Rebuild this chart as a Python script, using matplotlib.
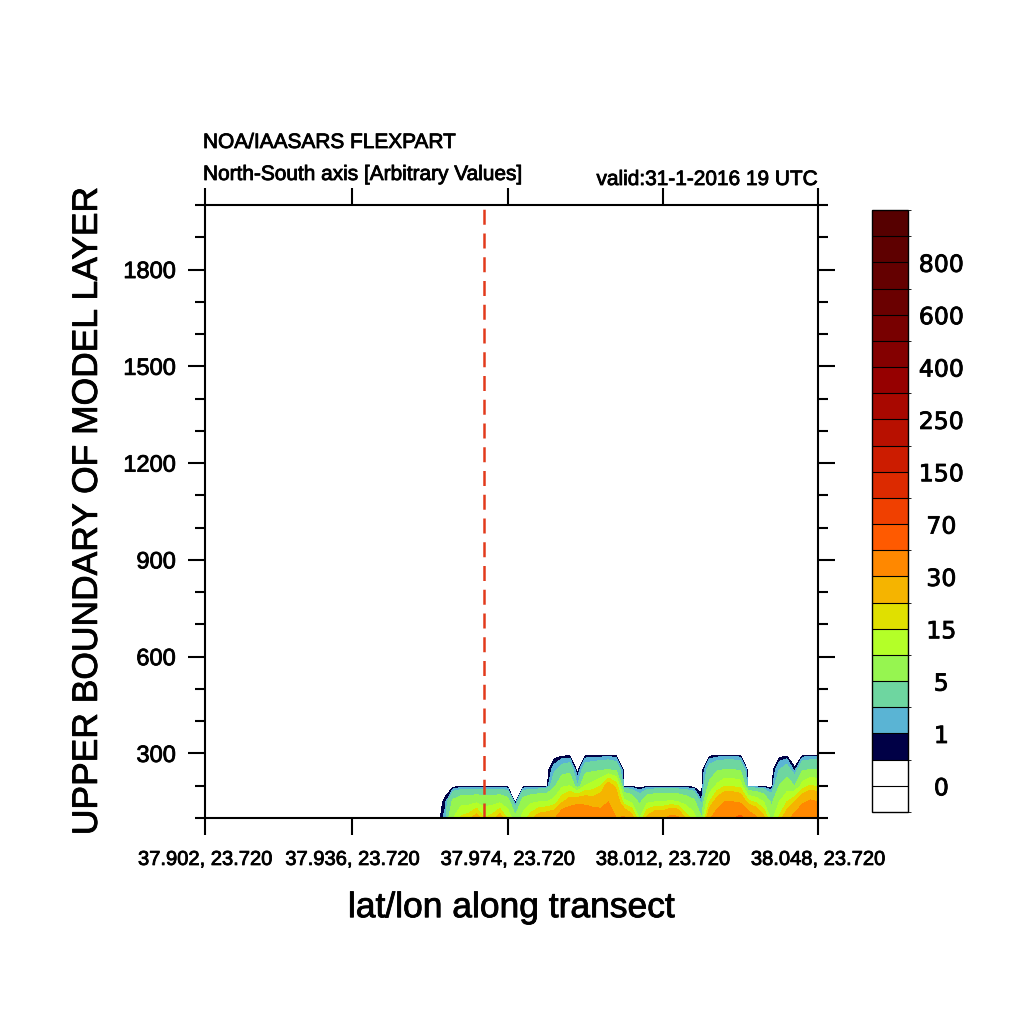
import numpy as np
import matplotlib
matplotlib.use("Agg")
import matplotlib.pyplot as plt
import matplotlib.patheffects as pe
from matplotlib.colors import ListedColormap, BoundaryNorm
from matplotlib.ticker import MultipleLocator

plt.rcParams['font.family'] = ['Liberation Sans', 'DejaVu Sans']
BOLDISH = [pe.withStroke(linewidth=0.6, foreground='black')]

# transect points (index along the cross section)
n_points = 80
tick_idx = [0, 19, 39, 59, 79]
tick_labels = ["37.902, 23.720", "37.936, 23.720", "37.974, 23.720",
               "38.012, 23.720", "38.048, 23.720"]
release_idx = 36

# model layer heights (m)
heights = [100, 150, 200, 250, 300, 2000]

# concentration per layer along the transect (columns 0..30 are empty)
conc_100 = [0] * 31 + [
    1.5, 10, 16, 18, 24, 15, 17, 24, 14, 6,
    12, 18, 24, 26, 28, 42, 46, 46, 46, 42,
    36, 32, 30, 32, 24, 10, 22, 28, 28, 34,
    32, 18, 12, 5, 28, 38, 45, 48, 55, 40,
    32, 22, 8, 16, 26, 35, 42, 46, 44]
conc_150 = [0] * 31 + [
    0.8, 6, 8, 8, 9, 8, 8, 9, 7, 0,
    7, 9, 10, 10, 12, 19, 24, 27, 26, 24,
    26, 30, 26, 12, 9, 4, 9, 10, 10, 11,
    10, 8, 6, 1.1, 15, 24, 30, 30, 28, 17,
    14, 10, 4, 10, 15, 20, 28, 32, 30]
conc_200 = [0] * 31 + [
    0, 0, 0, 0, 0, 0, 0, 0, 0, 0,
    0, 0, 0, 0, 4, 9, 10, 2, 10, 12,
    15, 24, 18, 0, 0, 0, 0, 0, 0, 0,
    0, 0, 0, 0, 6, 11, 14.5, 14, 13, 0,
    0, 0, 0, 5, 7, 5, 12, 15.5, 14]
conc_250 = [0] * 31 + [
    0, 0, 0, 0, 0, 0, 0, 0, 0, 0,
    0, 0, 0, 0, 1.5, 3, 3.5, 0, 3.5, 4,
    4.5, 5, 4, 0, 0, 0, 0, 0, 0, 0,
    0, 0, 0, 0, 3, 4.5, 5, 5, 4.5, 0,
    0, 0, 0, 2, 3, 0.6, 4.5, 5, 5]
conc_300 = [0] * n_points
conc_top = [0] * n_points

levels = [0, 0.5, 1, 2, 5, 10, 15, 20, 30, 50, 70, 100, 150, 200, 250,
          300, 400, 500, 600, 700, 800, 900]
label_levels = [0, 1, 5, 15, 30, 70, 150, 250, 400, 600, 800]
colors = ['#ffffff', '#ffffff', '#000046', '#5ab4d4', '#6ed6a0', '#96f550',
          '#b4ff28', '#e0e000', '#f5b400', '#ff8800', '#ff5a00', '#f04000',
          '#dc2a00', '#cc1c00', '#b81000', '#a80800', '#960000', '#840000',
          '#780000', '#6a0000', '#640000', '#5e0000', '#560000']

x = np.arange(n_points)
z = np.array([conc_100, conc_150, conc_200, conc_250, conc_300, conc_top], dtype=float)

fig = plt.figure(figsize=(10.24, 10.24), dpi=100)
ax = fig.add_axes([205 / 1024, 1 - 818 / 1024, 613 / 1024, 613 / 1024])

fill_levels = levels[1:] + [1e6]
ax.contourf(x, heights, z, levels=fill_levels, colors=colors[2:])
ax.axvline(release_idx, color='#e23a1c', lw=1.8, dashes=(6, 3.5))

ax.set_xlim(0, n_points - 1)
ax.set_ylim(100, 2000)
ax.set_xticks(tick_idx)
ax.set_xticklabels(tick_labels)
ax.set_yticks([300, 600, 900, 1200, 1500, 1800])
ax.yaxis.set_minor_locator(MultipleLocator(100))
ax.tick_params(axis='both', which='major', direction='out', length=12, width=1.5,
               top=True, right=True)
ax.tick_params(axis='x', which='major', labelsize=14.5, pad=11)
ax.tick_params(axis='y', which='major', labelsize=17, pad=9)
ax.tick_params(axis='y', which='minor', direction='out', length=7, width=1.5,
               left=True, right=True)
for s in ax.spines.values():
    s.set_linewidth(1.5)
for t in ax.get_xticklabels() + ax.get_yticklabels():
    t.set_path_effects(BOLDISH)

ax.set_xlabel('lat/lon along transect', fontsize=25.5, labelpad=16)
ax.set_ylabel('UPPER BOUNDARY OF MODEL LAYER', fontsize=25.5, labelpad=14)
ax.xaxis.label.set_path_effects(BOLDISH)
ax.yaxis.label.set_path_effects(BOLDISH)

title_kw = dict(fontsize=15, va='baseline', path_effects=BOLDISH)
fig.text(203 / 1024, 1 - 148 / 1024, 'NOA/IAASARS FLEXPART', ha='left', **title_kw)
fig.text(203 / 1024, 1 - 180 / 1024, 'North-South axis [Arbitrary Values]',
         ha='left', **title_kw)
fig.text(818 / 1024, 1 - 185 / 1024, 'valid:31-1-2016 19 UTC', ha='right', **title_kw)

# colorbar with equal boxes
cax = fig.add_axes([872 / 1024, 1 - 812 / 1024, 36 / 1024, 602 / 1024])
bounds = [-1] + levels + [1000]
cmap = ListedColormap(colors)
norm = BoundaryNorm(bounds, cmap.N)
sm = plt.cm.ScalarMappable(cmap=cmap, norm=norm)
cb = fig.colorbar(sm, cax=cax, boundaries=bounds, spacing='uniform',
                  ticks=label_levels, drawedges=True)
cb.outline.set_linewidth(1.0)
cb.dividers.set_linewidth(0.8)
cb.ax.tick_params(length=0, pad=24)
cb.ax.set_yticklabels([str(v) for v in label_levels], ha='center',
                      family='DejaVu Sans', fontsize=17)
for t in cb.ax.get_yticklabels():
    t.set_path_effects(BOLDISH)

fig.savefig('out.png', dpi=100, facecolor='white')
